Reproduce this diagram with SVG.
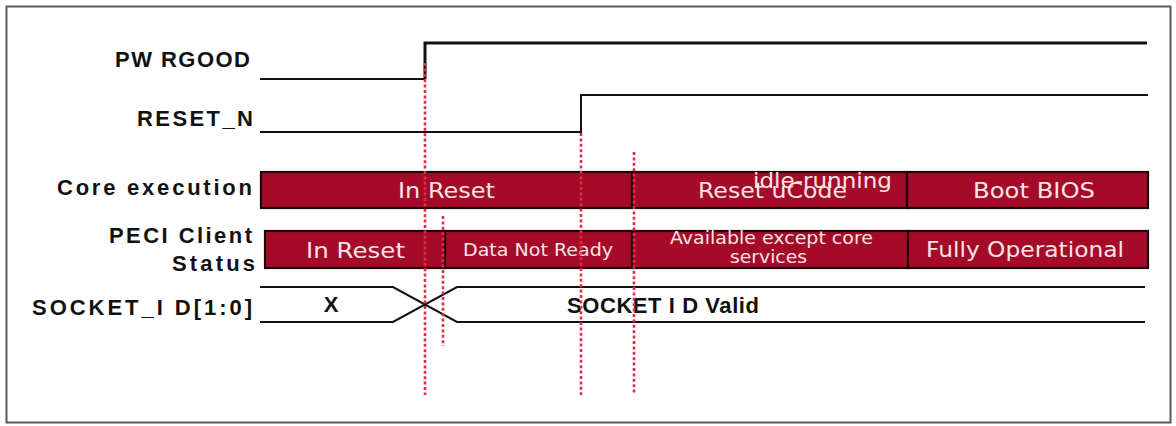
<svg xmlns="http://www.w3.org/2000/svg" width="1176" height="426" viewBox="0 0 1176 426">
<style>
.lbl{font-family:"Liberation Sans",Arial,sans-serif;font-weight:bold;font-size:22px;fill:#111;}
.bt{font-family:"DejaVu Sans",Verdana,sans-serif;fill:#f7e4e6;text-anchor:start;}
.bar{fill:#a50a28;stroke:#22030a;stroke-width:2.2;}
.wave{fill:none;stroke:#111;stroke-width:2;}
.wave3{fill:none;stroke:#111;stroke-width:3;}
.guide{stroke:#dc2f43;stroke-width:2.6;stroke-dasharray:3 2.4;fill:none;}
</style>
<rect x="0" y="0" width="1176" height="426" fill="#fff"/>
<rect id="frame" x="6.5" y="6.5" width="1164" height="416" fill="#fff" stroke="#5a5a5a" stroke-width="2"/>

<g id="pwrgood">
  <text class="lbl" x="115" y="67" textLength="135" lengthAdjust="spacing">PW RGOOD</text>
  <path class="wave" d="M260,79 H425"/>
  <path class="wave3" d="M425,79 V43 H1147"/>
</g>

<g id="reset_n">
  <text class="lbl" x="137" y="126" textLength="116" lengthAdjust="spacing">RESET_N</text>
  <path class="wave" d="M260,132 H581 V95 H1148"/>
</g>

<g id="core-execution">
  <text class="lbl" x="57" y="195" textLength="195" lengthAdjust="spacing">Core execution</text>
  <rect class="bar" x="261" y="172" width="371" height="36"/>
  <rect class="bar" x="632" y="172" width="275" height="36"/>
  <rect class="bar" x="907" y="172" width="241" height="36"/>
  <text class="bt" x="398" y="198" font-size="22" textLength="97" lengthAdjust="spacingAndGlyphs">In Reset</text>
  <text class="bt" x="698" y="198" font-size="22" textLength="149" lengthAdjust="spacingAndGlyphs">Reset uCode</text>
  <text class="bt" x="753" y="188" font-size="22" textLength="139" lengthAdjust="spacingAndGlyphs">idle-running</text>
  <text class="bt" x="973" y="198" font-size="22" textLength="122" lengthAdjust="spacingAndGlyphs">Boot BIOS</text>
</g>

<g id="peci-client-status">
  <text class="lbl" x="109" y="243" textLength="143" lengthAdjust="spacing">PECI Client</text>
  <text class="lbl" x="172" y="271" textLength="83" lengthAdjust="spacing">Status</text>
  <rect class="bar" x="265" y="231" width="180" height="37"/>
  <rect class="bar" x="445" y="231" width="187" height="37"/>
  <rect class="bar" x="632" y="231" width="276" height="37"/>
  <rect class="bar" x="908" y="231" width="240" height="37"/>
  <text class="bt" x="306" y="258" font-size="22" textLength="99" lengthAdjust="spacingAndGlyphs">In Reset</text>
  <text class="bt" x="463" y="256" font-size="18" textLength="150" lengthAdjust="spacingAndGlyphs">Data Not Ready</text>
  <text class="bt" x="670" y="244" font-size="18" textLength="203" lengthAdjust="spacingAndGlyphs">Available except core</text>
  <text class="bt" x="730" y="263" font-size="18" textLength="77" lengthAdjust="spacingAndGlyphs">services</text>
  <text class="bt" x="926" y="257" font-size="22" textLength="198" lengthAdjust="spacingAndGlyphs">Fully Operational</text>
</g>

<g id="socket-id">
  <text class="lbl" x="32" y="315" textLength="220" lengthAdjust="spacing">SOCKET_I D[1:0]</text>
  <path class="wave" d="M260,287 H393 L457,322 H1145"/>
  <path class="wave" d="M260,322 H393 L457,287 H1145"/>
  <text class="lbl" x="331" y="312" text-anchor="middle">X</text>
  <text class="lbl" x="567" y="313" textLength="192" lengthAdjust="spacing">SOCKET I D Valid</text>
</g>

<g id="connectors">
  <line class="guide" x1="425" y1="63" x2="425" y2="395"/>
  <line class="guide" x1="443" y1="216" x2="443" y2="346"/>
  <line class="guide" x1="581" y1="133" x2="581" y2="395"/>
  <line class="guide" x1="634" y1="152" x2="634" y2="395"/>
</g>
</svg>
